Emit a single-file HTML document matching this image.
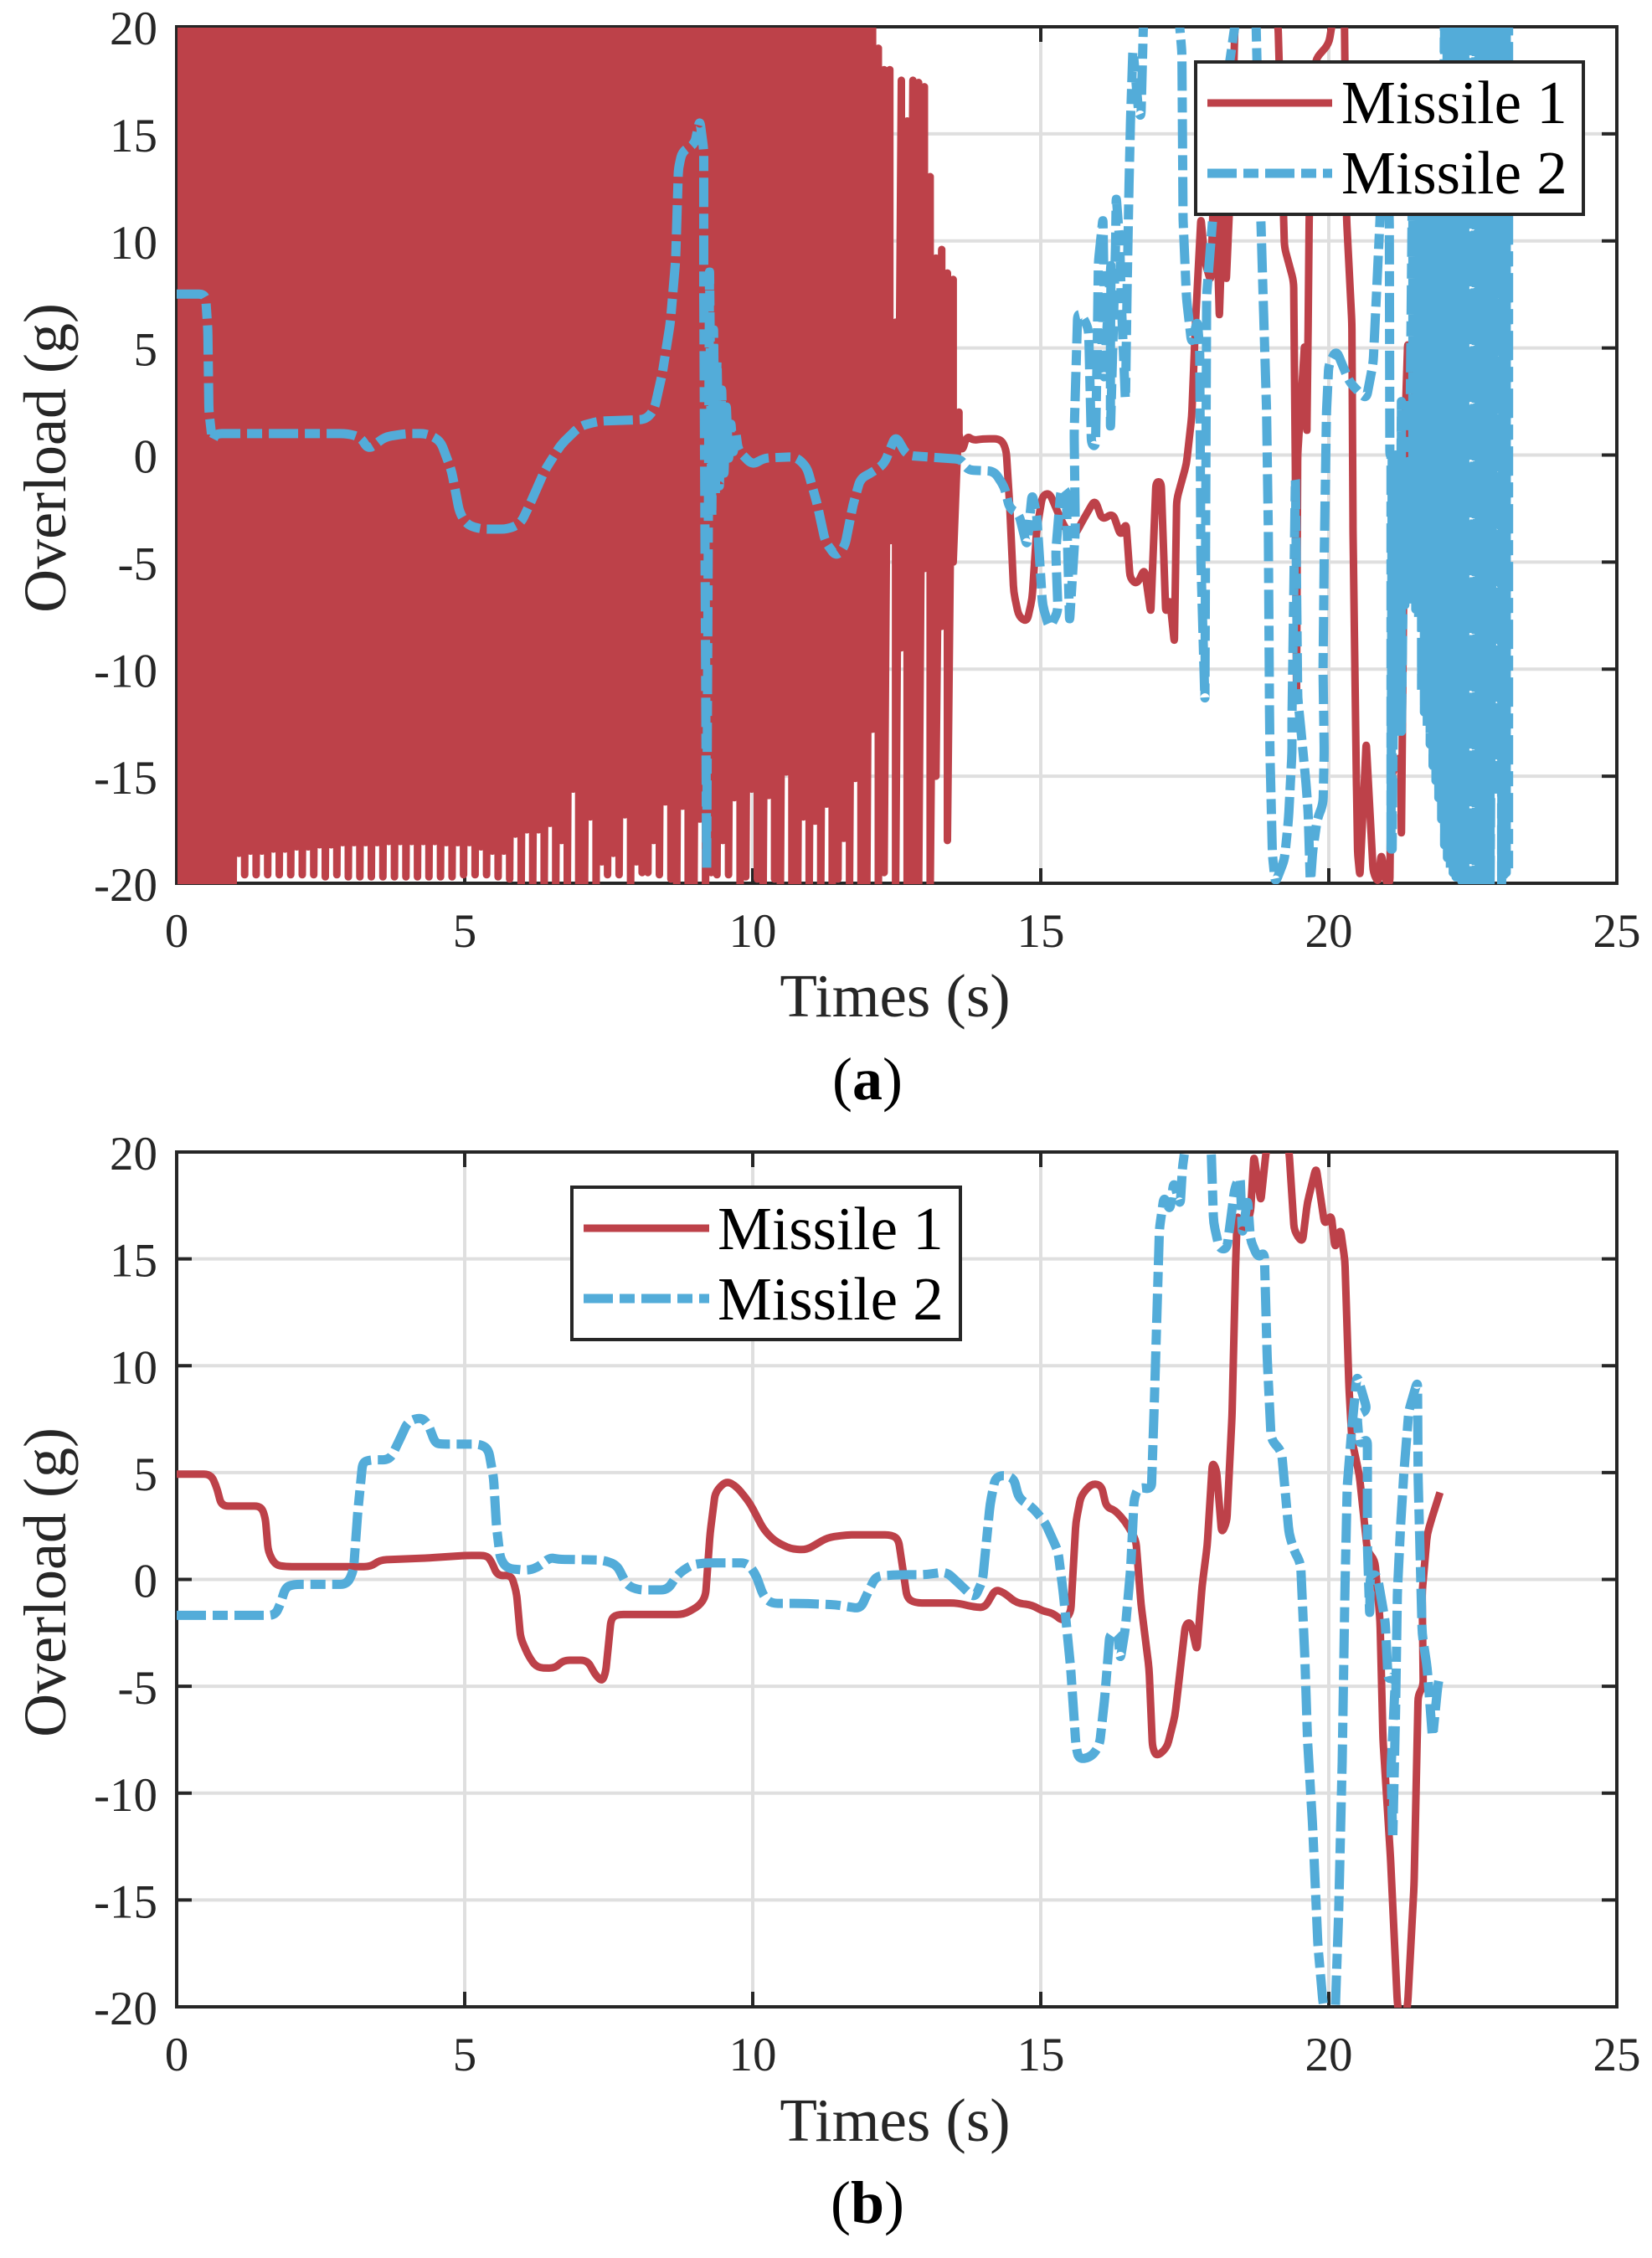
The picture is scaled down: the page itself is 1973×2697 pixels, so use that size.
<!DOCTYPE html>
<html lang="en">
<head>
<meta charset="utf-8">
<title>Missile overload comparison</title>
<style>
html,body{margin:0;padding:0;background:#fff;}
svg{display:block;}
text{font-family:"Liberation Serif","Times New Roman",serif;}
</style>
</head>
<body>
<svg id="figure" xmlns="http://www.w3.org/2000/svg" width="1973" height="2697" viewBox="0 0 1973 2697">
  <defs>
    <clipPath id="clip-a"><rect x="211" y="33" width="1718" height="1023"></rect></clipPath>
    <clipPath id="clip-b"><rect x="211" y="1377" width="1718" height="1021"></rect></clipPath>
  </defs>
  <rect x="0" y="0" width="1973" height="2697" fill="#fff"></rect>

  <g id="panel-a">
    <g id="a-grid"></g>
    <g id="a-axes"></g>
    <g id="a-series" clip-path="url(#clip-a)"></g>
    <text transform="translate(78,547) rotate(-90)" text-anchor="middle" font-size="72" fill="#262626">Overload (g)</text>
    <text x="1069" y="1214" text-anchor="middle" font-size="73" fill="#262626">Times (s)</text>
    <g>
      <rect x="1428" y="74" width="463" height="182" fill="#fff" stroke="#262626" stroke-width="4"></rect>
      <line x1="1442" y1="123" x2="1591" y2="123" stroke="#BD4149" stroke-width="9"></line>
      <text x="1602" y="147" font-size="73" fill="#000">Missile 1</text>
      <line x1="1442" y1="207" x2="1591" y2="207" stroke="#53ACD9" stroke-width="11" stroke-dasharray="35 8 18 8"></line>
      <text x="1602" y="231" font-size="73" fill="#000">Missile 2</text>
    </g>
    <text x="1036" y="1313" text-anchor="middle" font-size="72" fill="#000">(<tspan font-weight="bold">a</tspan>)</text>
  </g>

  <g id="panel-b">
    <g id="b-grid"></g>
    <g id="b-axes"></g>
    <g id="b-series" clip-path="url(#clip-b)"></g>
    <text transform="translate(78,1890) rotate(-90)" text-anchor="middle" font-size="72" fill="#262626">Overload (g)</text>
    <text x="1069" y="2557" text-anchor="middle" font-size="73" fill="#262626">Times (s)</text>
    <g>
      <rect x="683" y="1418" width="464" height="182" fill="#fff" stroke="#262626" stroke-width="4"></rect>
      <line x1="697" y1="1467" x2="847" y2="1467" stroke="#BD4149" stroke-width="9"></line>
      <text x="857" y="1492" font-size="73" fill="#000">Missile 1</text>
      <line x1="697" y1="1551" x2="847" y2="1551" stroke="#53ACD9" stroke-width="11" stroke-dasharray="35 8 18 8"></line>
      <text x="857" y="1576" font-size="73" fill="#000">Missile 2</text>
    </g>
    <text x="1036" y="2655" text-anchor="middle" font-size="72" fill="#000">(<tspan font-weight="bold">b</tspan>)</text>
  </g>
</svg>

<script>
const xTicks = [0, 5, 10, 15, 20, 25];
const yTicks = [20, 15, 10, 5, 0, -5, -10, -15, -20];

/* Panel (a) Missile 1: dense oscillation, one entry per swing */
const m1aSwingTime = [
0.08,0.18,0.28,0.38,0.48,0.58,0.68,0.78,0.88,0.98,
1.08,1.18,1.28,1.38,1.48,1.58,1.68,1.78,1.88,1.98,
2.08,2.18,2.28,2.38,2.48,2.58,2.68,2.78,2.88,2.98,
3.08,3.18,3.28,3.38,3.48,3.58,3.68,3.78,3.88,3.98,
4.08,4.18,4.28,4.38,4.48,4.58,4.68,4.78,4.88,4.98,
5.08,5.18,5.28,5.38,5.48,5.58,5.68,5.78,5.88,5.98,
6.08,6.18,6.28,6.38,6.48,6.58,6.68,6.78,6.88,6.98,
7.08,7.18,7.28,7.38,7.48,7.58,7.68,7.78,7.88,7.98,
8.08,8.18,8.28,8.38,8.48,8.58,8.68,8.78,8.88,8.98,
9.08,9.18,9.28,9.38,9.48,9.58,9.68,9.78,9.88,9.98,
10.08,10.18,10.28,10.38,10.48,10.58,10.68,10.78,10.88,10.98,
11.08,11.18,11.28,11.38,11.48,11.58,11.68,11.78,11.88,11.98,
12.08,12.18,12.28,12.38,12.48,12.58,12.68,12.78,12.88,12.98,
13.08,13.18,13.28,13.38,13.48,13.58];
const m1aSwingLow = [
-20.5,-20.5,-20.5,-20.5,-20.5,-20.5,-20.5,-20.5,-20.5,-20.5,
-18.6,-19.6,-18.5,-19.6,-18.5,-19.6,-18.4,-19.6,-18.4,-19.6,
-18.3,-19.6,-18.3,-19.6,-18.2,-19.7,-18.2,-19.6,-18.1,-19.7,
-18.1,-19.7,-18.1,-19.7,-18.1,-19.7,-18.05,-19.7,-18.05,-19.7,
-18.05,-19.7,-18.05,-19.7,-18.05,-19.7,-18.1,-19.7,-18.1,-19.6,
-18.1,-19.6,-18.3,-19.6,-18.5,-19.7,-18.5,-19.8,-17.7,-20.5,
-17.5,-20.5,-17.5,-20.5,-17.2,-20.5,-18,-20.5,-15.6,-20.5,
-20.5,-16.9,-20.5,-19,-19.6,-18.6,-19.6,-16.8,-20.5,-19,
-19.5,-19.5,-18,-19.6,-16.2,-19.8,-20.5,-16.4,-20.5,-20.5,
-17,-20.5,-19.5,-19.6,-18,-19.6,-16,-20.5,-19.7,-15.6,
-19.8,-20.5,-15.9,-19.8,-20.5,-14.8,-20.5,-20.5,-16.9,-20.5,
-17.1,-20.5,-16.3,-20.5,-19.8,-17.9,-20,-15.1,-20.5,-20.5,
-12.8,-20.5,-19.5,-4,-20.5,-9,-20.5,-20.5,-20.5,-5.3,
-20.5,-15,-8,-18,-5,1];
const m1aSwingHigh = [
24,24,24,24,24,24,24,24,24,24,
24,24,24,24,24,24,24,24,24,24,
24,24,24,24,24,24,24,24,24,24,
24,24,24,24,24,24,24,24,24,24,
24,24,24,24,24,24,24,24,24,24,
24,24,24,24,24,24,24,24,24,24,
24,24,24,24,24,24,24,24,24,24,
24,24,24,24,24,24,24,24,24,24,
24,24,24,24,24,24,24,24,24,24,
24,24,24,24,24,24,24,24,24,24,
24,24,24,24,24,24,24,24,24,24,
24,24,24,24,24,24,24,24,24,24,
24,19,18,18,6.2,17.5,15.6,17.5,17.4,17.2,
13,9.2,9.6,8.5,8.2,2];

/* Panel (a) Missile 1: trace after the dense oscillation */
const m1aTailTime = [
13.63,13.72,13.83,13.99,14.31,14.4,14.46,14.53,14.62,14.76,
14.85,14.93,15.03,15.15,15.3,15.44,15.58,15.71,15.94,16.07,
16.25,16.39,16.48,16.55,16.67,16.8,16.91,17.0,17.09,17.17,
17.24,17.32,17.36,17.53,17.62,17.69,17.78,17.85,17.95,18.02,
18.1,18.17,18.22,18.3,18.37,18.5,19.05,19.12,19.23,19.39,
19.42,19.44,19.46,19.58,19.62,19.64,19.66,19.77,20.0,20.08,
20.27,20.31,20.4,20.42,20.48,20.5,20.54,20.65,20.77,20.86,
20.91,21,21.06,21.08,21.25,21.26,21.3,21.33,21.37,21.45,21.6,22.2,23];
const m1aTailValue = [
0.14,0.9,0.68,0.76,0.76,0.25,-2.3,-6.4,-7.55,-7.8,
-6.7,-3.5,-1.9,-1.76,-2.7,-3.5,-3.8,-3.15,-2.07,-3.05,
-2.7,-3.8,-3.15,-5.77,-6.05,-5.3,-7.4,-1.25,-1.25,-7.4,
-6.7,-8.8,-2.07,-0.4,1.8,6.4,11.1,9,8.1,14,
6.4,12,8.1,13,20,21,21,20,9.7,8.1,
-0.7,-11.1,0,5.2,1,5.6,11.1,18.5,19.2,20.5,
20.5,11,6.2,-3.4,-15.4,-18.6,-19.7,-13.4,-19.5,-20,
-18.6,-20,-20,-15,-14,-17.8,-6.2,2,5.3,3.9,0,0.5,0];

/* Panel (a) Missile 2: main trace */
const m2aTime = [
0,0.5,0.54,0.56,0.62,0.67,2.96,3.19,3.33,3.61,
3.98,4.35,4.58,4.77,4.91,5.04,5.28,5.75,5.97,6.16,
6.39,6.67,7,7.32,8.15,8.29,8.43,8.57,8.66,8.71,
8.78,8.99,9.08,9.15,9.15,9.2,9.25,9.29,9.32,9.35,
9.38,9.42,9.46,9.5,9.54,9.58,9.62,9.66,9.7,9.75,
10,10.19,10.75,10.94,11.12,11.26,11.45,11.6,11.74,11.87,
12.05,12.28,12.48,12.68,13.63,13.72,14.19,14.37,14.46,14.62,
14.76,14.85,14.93,15.03,15.15,15.3,15.26,15.35,15.44,15.5,
15.6,15.58,15.64,15.72,15.83,15.84,15.88,15.95,15.98,16.0,
16.08,16.1,16.06,16.1,16.14,16.22,16.21,16.21,16.26,16.3,
16.31,16.37,16.4,16.47,16.5,16.53,16.56,16.6,16.7,16.74,
16.78,16.82,17.38,17.45,17.47,17.53,17.62,17.72,17.76,17.78,
17.85,17.86,17.88,18.1,18.42,18.73,18.82,18.87,18.92,18.95,
18.97,18.98,19.02,19.07,19.23,19.3,19.36,19.36,19.42,19.46,
19.5,19.6,19.64,19.68,19.72,19.8,19.9,19.92,19.9,19.92,
19.96,20,20.13,20.36,20.65,20.77,20.89,20.98,21.05,21.06];
const m2aValue = [
7.52,7.52,5.9,2.05,0.6,1,1,0.84,0.25,0.84,
1,1,0.65,-0.72,-2.68,-3.26,-3.46,-3.46,-3.2,-2.13,
-0.72,0.48,1.35,1.58,1.66,2.13,3.8,6.2,9.03,13.4,
14.2,14.5,15.66,14.27,7.3,-19.5,8.7,-3,6,-2,
4.5,-1.6,3.2,-1,2.4,-0.3,1.6,0,1.2,0.2,
-0.47,-0.14,-0.08,-0.57,-2.3,-4.05,-4.75,-4.25,-2.33,-1.1,
-0.85,-0.42,0.9,-0.02,-0.2,-0.7,-0.75,-1.5,-2.5,-2.75,
-4.25,-1.8,-2.8,-7,-8.1,-7.3,-4.5,-1.6,-1.6,-7.8,
-3.5,1,6.6,6.5,5.9,4.9,0.5,0.4,5,9,
11.1,7.5,5.3,3.5,5.5,9,5,1.2,6,10,
12.1,10,7,2.5,8,12.3,15.8,19,16,15.8,
20,21,21,18.8,11,7.3,5.2,6.3,4.8,-5,
-11.5,-5,7.5,15,21,21,11,6.5,2,-3.4,
-11.7,-14,-18.6,-20,-18.9,-17,-13.9,-12.4,-1,-11.3,
-12.4,-15.2,-16.6,-20,-18.5,-17,-16.3,-13.9,-10,-4.8,
2,4.25,4.9,3.4,2.6,4.3,11.1,16,11,0];

/* Panel (a) Missile 2: dense oscillation at the end of the flight */
const m2aSwingTime = [
21.08,21.1,21.16,21.22,21.26,21.32,21.38,
21.46,21.51,21.56,21.61,21.66,21.71,21.76,21.81,21.86,21.91,21.96,
22.01,22.06,22.11,22.16,22.21,22.26,22.31,22.36,22.41,22.46,22.51,
22.56,22.61,22.65,22.7,22.75,22.8,22.9,23.0,23.04,23.08,23.12];
const m2aSwingHigh = [
0,0,0,0,2.5,-0.3,-0.3,
15,15,15,15,15,15,15,15,15,15,15,
24,24,24,24,24,24,24,24,24,24,24,
24,24,24,24,24,24,24,24,24,24,24];
const m2aSwingLow = [
-18.4,-18.4,-12.9,-12.9,-12.9,-7,-7,
-6.5,-7.2,-7.6,-11.1,-12,-12.65,-13.5,-14.5,-15.2,-16,-17,
-18.2,-18.8,-19.3,-19.5,-19.7,-19.9,-19.9,-19.9,-20.5,-20.5,-20.5,
-20.5,-19.5,-19.5,-20.5,-20.5,-20.5,-15.6,-20.5,-19.6,-19.5,-19.3];

/* Panel (b) Missile 1 */
const m1bTime = [
0,0.59,0.69,0.78,1.47,1.54,1.59,1.71,1.89,3.37,
3.53,4.35,5,5.38,5.46,5.57,5.81,5.9,5.97,6.11,
6.25,6.57,6.71,7.13,7.27,7.39,7.45,7.54,7.64,8.8,
9.07,9.18,9.26,9.35,9.54,9.72,9.95,10.19,10.37,10.65,
10.93,11.3,11.64,12.41,12.53,12.59,12.68,12.82,13.54,13.85,
14.03,14.21,14.35,14.58,14.85,15.03,15.21,15.39,15.52,15.61,
15.7,15.88,16.05,16.14,16.29,16.47,16.65,16.74,16.88,16.94,
17.01,17.19,17.33,17.4,17.51,17.6,17.71,17.8,17.89,17.98,
18.05,18.14,18.23,18.32,18.38,18.41,18.5,18.64,18.7,18.82,
18.91,19.0,19.25,19.31,19.4,19.54,19.63,19.78,19.93,20.04,
20.11,20.2,20.28,20.35,20.4,20.53,20.67,20.8,20.89,20.94,
21.07,21.19,21.28,21.37,21.48,21.55,21.64,21.62,21.71,21.8,21.93];
const m1bValue = [
4.93,4.93,4.35,3.43,3.43,2.87,1.29,0.68,0.6,0.6,
0.91,1,1.12,1.12,0.86,0.16,0.21,-0.63,-2.73,-3.6,
-4.13,-4.16,-3.78,-3.78,-4.48,-4.79,-4.3,-1.85,-1.64,-1.64,
-1.24,-0.8,2.17,4.09,4.62,4.35,3.57,2.34,1.82,1.43,
1.38,1.96,2.09,2.09,1.87,0.77,-0.88,-1.1,-1.1,-1.29,
-1.32,-0.47,-0.6,-1.1,-1.2,-1.48,-1.57,-1.98,-1.57,2.69,
3.93,4.48,4.42,3.38,3.24,2.69,1.87,-1.15,-4.18,-7.88,
-8.3,-7.88,-6.37,-4.73,-2.12,-1.98,-3.35,-0.33,1.59,5.49,
5.16,2.14,2.69,7.64,14.5,17.1,16.3,17.1,19.86,17.66,
20,21,21,20,16.3,15.74,17.66,19.3,16.57,17.1,
15.47,16.43,14.92,9,6.54,4.89,1.32,0.9,-1.98,-7.47,
-12.97,-19.84,-21.5,-19.84,-14.3,-5.41,-5,-0.6,2.14,2.97,4.07];

/* Panel (b) Missile 2 */
const m2bTime = [
0,1.71,1.8,1.89,2.03,2.96,3.07,3.14,3.23,3.37,
3.7,3.84,4.02,4.25,4.37,4.49,4.62,5.27,5.41,5.5,
5.55,5.62,5.74,6.11,6.29,6.48,6.62,7.4,7.64,7.82,
8.01,8.52,8.7,8.93,9.17,9.91,10.05,10.19,10.32,10.84,
11.46,11.87,12,12.14,12.55,13,13.36,13.58,13.85,13.99,
14.12,14.21,14.35,14.53,14.62,14.85,15.07,15.3,15.39,15.52,
15.61,15.66,15.88,16.02,16.11,16.2,16.34,16.38,16.47,16.56,
16.62,16.7,16.92,16.97,17.06,17.14,17.24,17.31,17.42,17.46,
17.55,17.7,17.9,17.96,18,18.1,18.23,18.37,18.46,18.5,
18.59,18.64,18.77,18.88,18.93,19,19.18,19.31,19.4,19.51,
19.58,19.63,19.72,19.81,19.9,19.95,20.11,20.17,20.23,20.28,
20.32,20.4,20.49,20.67,20.49,20.53,20.67,20.67,20.71,20.72,
20.84,20.98,21.03,21.16,21.08,21.11,21.16,21.19,21.25,21.3,
21.39,21.54,21.55,21.62,21.71,21.8,21.89,21.93];
const m2bValue = [
-1.68,-1.68,-1.15,-0.37,-0.23,-0.23,0.42,3.04,5.49,5.6,
5.6,6.37,7.41,7.59,7.24,6.37,6.33,6.33,6.1,4.79,
2.52,0.94,0.51,0.42,0.6,1.03,0.94,0.91,0.68,-0.28,
-0.49,-0.49,0.24,0.68,0.77,0.77,0.24,-0.8,-1.12,-1.12,
-1.19,-1.37,-0.6,0.16,0.22,0.22,0.36,-0.19,-0.88,-0.05,
3.52,4.75,4.89,4.75,3.79,3.38,2.69,1.32,-0.6,-4.18,
-7.75,-8.43,-8.3,-7.75,-5.55,-2.53,-2.53,-3.76,-2.25,0.49,
3.79,4.34,4.2,8.19,16.43,17.94,17.25,18.62,17.5,19.3,
21,21,21,20,16.7,15.47,15.47,18.35,18.9,16.15,
17.8,15.88,15.05,15.32,10.38,6.54,5.99,2.14,1.32,0.77,
-3.35,-7.47,-11.6,-17.08,-19.84,-20.4,-20.4,-15.7,-8.85,-0.6,
4.34,7.09,9.56,7.91,7.7,6.3,6.6,1.59,-1.7,0.2,
0.22,-1.98,-4.73,-4.45,-8.85,-12.28,-6.1,-0.6,2.69,4.89,
7.91,9.29,4.89,-2.53,-4.18,-7.47,-5,-4.45];

const SVG_NS = 'http://www.w3.org/2000/svg';
const RED = '#BD4149';
const BLUE = '#53ACD9';
const DARK = '#262626';
const DASH = '35 8 18 8';
const CORNER = 8;

function line(x1, y1, x2, y2, color, width) {
  const el = document.createElementNS(SVG_NS, 'line');
  el.setAttribute('x1', x1);
  el.setAttribute('y1', y1);
  el.setAttribute('x2', x2);
  el.setAttribute('y2', y2);
  el.setAttribute('stroke', color);
  el.setAttribute('stroke-width', width);
  return el;
}

function label(x, y, anchor, content) {
  const el = document.createElementNS(SVG_NS, 'text');
  el.setAttribute('x', x);
  el.setAttribute('y', y);
  el.setAttribute('text-anchor', anchor);
  el.setAttribute('font-size', 57);
  el.setAttribute('fill', DARK);
  el.textContent = content;
  return el;
}

/* Rounds each vertex slightly, except the ones marked sharp (dense swings) */
function tracePath(points, x, y, color, width, dash, isSharp) {
  const el = document.createElementNS(SVG_NS, 'path');
  const px = points.map(function (p) { return [x(p[0]), y(p[1])]; });
  let d = 'M' + px[0][0].toFixed(1) + ' ' + px[0][1].toFixed(1);
  for (let i = 1; i < px.length; i++) {
    const p = px[i];
    const prev = px[i - 1];
    const next = px[i + 1];
    if (!next || (isSharp && isSharp(i))) {
      d += 'L' + p[0].toFixed(1) + ' ' + p[1].toFixed(1);
      continue;
    }
    const la = Math.hypot(p[0] - prev[0], p[1] - prev[1]) || 1;
    const lb = Math.hypot(next[0] - p[0], next[1] - p[1]) || 1;
    const ra = Math.min(CORNER, la / 2);
    const rb = Math.min(CORNER, lb / 2);
    const ax = p[0] - (p[0] - prev[0]) * ra / la;
    const ay = p[1] - (p[1] - prev[1]) * ra / la;
    const bx = p[0] + (next[0] - p[0]) * rb / lb;
    const by = p[1] + (next[1] - p[1]) * rb / lb;
    d += 'L' + ax.toFixed(1) + ' ' + ay.toFixed(1);
    d += 'Q' + p[0].toFixed(1) + ' ' + p[1].toFixed(1) + ' ' + bx.toFixed(1) + ' ' + by.toFixed(1);
  }
  el.setAttribute('d', d);
  el.setAttribute('fill', 'none');
  el.setAttribute('stroke', color);
  el.setAttribute('stroke-width', width);
  el.setAttribute('stroke-linejoin', 'round');
  if (dash) el.setAttribute('stroke-dasharray', dash);
  return el;
}

function drawFrame(prefix, left, right, top, bottom, x, y) {
  const grid = document.getElementById(prefix + '-grid');
  const axes = document.getElementById(prefix + '-axes');
  xTicks.forEach(function (t) {
    if (t > 0 && t < 25) {
      const g = line(x(t), top, x(t), bottom, '#DFDFDF', 4);
      
      
      grid.appendChild(g);
      const t1 = line(x(t), bottom, x(t), bottom - 18, DARK, 4);
      
      
      axes.appendChild(t1);
      const t2 = line(x(t), top, x(t), top + 18, DARK, 4);
      
      
      axes.appendChild(t2);
    }
    const tl = label(x(t), bottom + 76, 'middle', String(t));
    
    
    axes.appendChild(tl);
  });
  yTicks.forEach(function (v) {
    if (v > -20 && v < 20) {
      const g = line(left, y(v), right, y(v), '#DFDFDF', 4);
      
      
      grid.appendChild(g);
      const t1 = line(left, y(v), left + 18, y(v), DARK, 4);
      
      
      axes.appendChild(t1);
      const t2 = line(right, y(v), right - 18, y(v), DARK, 4);
      
      
      axes.appendChild(t2);
    }
    const tl = label(188, y(v) + 21, 'end', String(v));
    
    
    axes.appendChild(tl);
  });
  const box = document.createElementNS(SVG_NS, 'rect');
  box.setAttribute('x', left);
  box.setAttribute('y', top);
  box.setAttribute('width', right - left);
  box.setAttribute('height', bottom - top);
  box.setAttribute('fill', 'none');
  box.setAttribute('stroke', DARK);
  box.setAttribute('stroke-width', 4);
  
  
  axes.appendChild(box);
}

function xScale(t) { return 211 + t * 68.8; }
function yScaleA(v) { return 32 + (20 - v) * 25.575; }
function yScaleB(v) { return 1376 + (20 - v) * 25.525; }

drawFrame('a', 211, 1931, 32, 1055, xScale, yScaleA);
drawFrame('b', 211, 1931, 1376, 2397, xScale, yScaleB);

/* Panel (a) traces: each swing runs high, then low, then on to the next swing */
const m1aPoints = [];
m1aSwingTime.forEach(function (t, i) {
  m1aPoints.push([t, m1aSwingHigh[i]]);
  m1aPoints.push([t, m1aSwingLow[i]]);
});
const m1aSharpCount = m1aPoints.length;
m1aTailTime.forEach(function (t, i) {
  m1aPoints.push([t, m1aTailValue[i]]);
});

const m2aPoints = m2aTime.map(function (t, i) { return [t, m2aValue[i]]; });
const m2aSmoothCount = m2aPoints.length;
m2aSwingTime.forEach(function (t, i) {
  m2aPoints.push([t, m2aSwingHigh[i]]);
  m2aPoints.push([t, m2aSwingLow[i]]);
});

const seriesA = document.getElementById('a-series');
const redA = tracePath(m1aPoints, xScale, yScaleA, RED, 9, null, function (i) { return i < m1aSharpCount; });


seriesA.appendChild(redA);
const blueA = tracePath(m2aPoints, xScale, yScaleA, BLUE, 11, DASH, function (i) { return i >= m2aSmoothCount; });


seriesA.appendChild(blueA);

/* Panel (b) traces */
const m1bPoints = m1bTime.map(function (t, i) { return [t, m1bValue[i]]; });
const m2bPoints = m2bTime.map(function (t, i) { return [t, m2bValue[i]]; });

const seriesB = document.getElementById('b-series');
const redB = tracePath(m1bPoints, xScale, yScaleB, RED, 9, null, null);


seriesB.appendChild(redB);
const blueB = tracePath(m2bPoints, xScale, yScaleB, BLUE, 11, DASH, null);


seriesB.appendChild(blueB);
</script>
</body>
</html>
